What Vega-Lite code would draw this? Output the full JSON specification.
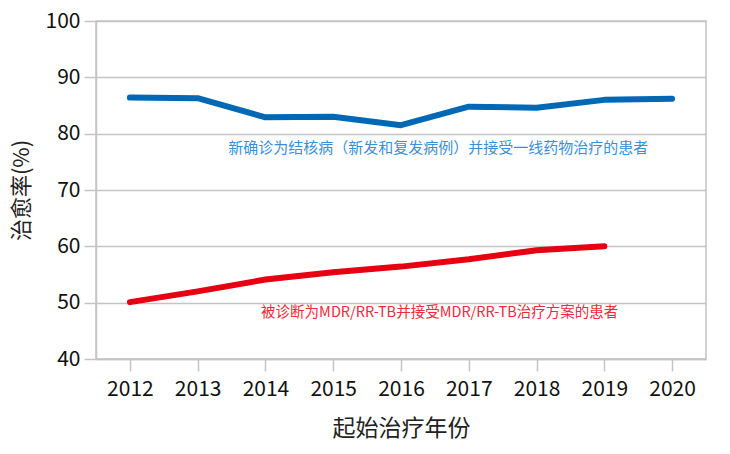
{
  "$schema": "https://vega.github.io/schema/vega-lite/v6.json",
  "width": 610,
  "height": 338,
  "autosize": "none",
  "padding": {"left": 96, "top": 21, "right": 24, "bottom": 95},
  "background": "white",
  "config": {
    "font": "Noto Sans CJK SC",
    "view": {"stroke": "#c4c4c4", "strokeWidth": 1.5}
  },
  "datasets": {
    "lines": [
      {"year": 2012, "rate": 86.4, "series": "new"},
      {"year": 2013, "rate": 86.3, "series": "new"},
      {"year": 2014, "rate": 82.9, "series": "new"},
      {"year": 2015, "rate": 83.0, "series": "new"},
      {"year": 2016, "rate": 81.5, "series": "new"},
      {"year": 2017, "rate": 84.8, "series": "new"},
      {"year": 2018, "rate": 84.6, "series": "new"},
      {"year": 2019, "rate": 86.0, "series": "new"},
      {"year": 2020, "rate": 86.2, "series": "new"},
      {"year": 2012, "rate": 50.1, "series": "mdr"},
      {"year": 2013, "rate": 52.0, "series": "mdr"},
      {"year": 2014, "rate": 54.1, "series": "mdr"},
      {"year": 2015, "rate": 55.4, "series": "mdr"},
      {"year": 2016, "rate": 56.4, "series": "mdr"},
      {"year": 2017, "rate": 57.7, "series": "mdr"},
      {"year": 2018, "rate": 59.3, "series": "mdr"},
      {"year": 2019, "rate": 60.0, "series": "mdr"}
    ],
    "labels": [
      {"x": 2016.55, "y": 77.5, "label": "新确诊为结核病（新发和复发病例）并接受一线药物治疗的患者", "series": "new"},
      {"x": 2016.57, "y": 48.2, "label": "被诊断为MDR/RR-TB并接受MDR/RR-TB治疗方案的患者", "series": "mdr"}
    ]
  },
  "layer": [
    {
      "data": {"name": "lines"},
      "mark": {"type": "line", "strokeWidth": 6, "strokeCap": "round", "strokeJoin": "round"},
      "encoding": {
        "x": {
          "field": "year",
          "type": "quantitative",
          "scale": {"domain": [2011.5, 2020.5], "nice": false, "zero": false},
          "axis": {
            "values": [2012, 2013, 2014, 2015, 2016, 2017, 2018, 2019, 2020],
            "format": "d",
            "grid": false,
            "title": "起始治疗年份",
            "titleFontSize": 23,
            "titleFontWeight": "normal",
            "titleColor": "#222222",
            "titlePadding": 18,
            "labelFontSize": 21,
            "labelColor": "#111111",
            "labelPadding": 7,
            "tickSize": 12,
            "tickColor": "#c4c4c4",
            "tickWidth": 1.5,
            "domainColor": "#c4c4c4",
            "domainWidth": 1.5
          }
        },
        "y": {
          "field": "rate",
          "type": "quantitative",
          "scale": {"domain": [40, 100], "nice": false, "zero": false},
          "axis": {
            "values": [40, 50, 60, 70, 80, 90, 100],
            "title": "治愈率(%)",
            "titleFontSize": 22,
            "titleFontWeight": "normal",
            "titleColor": "#222222",
            "titlePadding": 12,
            "labelFontSize": 21,
            "labelColor": "#111111",
            "labelPadding": 4,
            "tickSize": 12,
            "tickColor": "#c4c4c4",
            "tickWidth": 1.5,
            "domainColor": "#c4c4c4",
            "domainWidth": 1.5,
            "gridColor": "#c4c4c4",
            "gridWidth": 1.5
          }
        },
        "color": {
          "field": "series",
          "type": "nominal",
          "scale": {"domain": ["new", "mdr"], "range": ["#0068b4", "#e60012"]},
          "legend": null
        }
      }
    },
    {
      "data": {"name": "labels"},
      "mark": {"type": "text", "align": "center", "baseline": "middle"},
      "encoding": {
        "x": {"field": "x", "type": "quantitative"},
        "y": {"field": "y", "type": "quantitative"},
        "text": {"field": "label"},
        "size": {
          "field": "series",
          "type": "nominal",
          "scale": {"domain": ["new", "mdr"], "range": [15, 14.5]},
          "legend": null
        },
        "color": {
          "field": "series",
          "type": "nominal",
          "scale": {"domain": ["new", "mdr"], "range": ["#3a8fd6", "#ee2a3c"]},
          "legend": null
        }
      }
    }
  ],
  "resolve": {"scale": {"color": "independent"}}
}
